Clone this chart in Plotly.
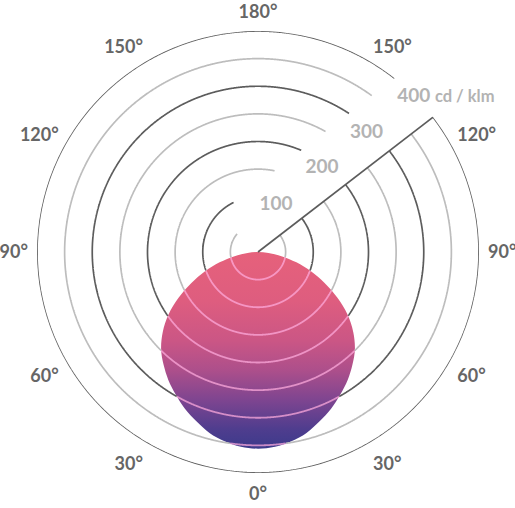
import numpy as np
import plotly.graph_objects as go

# ---- data ----
angles = [0, 5, 10, 15, 20, 25, 30, 35, 40, 45, 50, 55, 60, 65, 70, 75, 80, 85, 90]
intensity = [356, 354, 348, 339, 326, 313, 298, 283, 266, 248, 225, 198, 166, 133, 102, 72, 43, 19, 0]
ring_values = [50, 100, 150, 200, 250, 300, 350, 400]
ring_labels = ["100", "200", "300", "400"]
unit_label = "cd / klm"
angle_tickvals = [0, 30, 60, 90, 120, 150, 180, 210, 240, 270, 300, 330]
angle_ticktext = ["0°", "30°", "60°", "90°", "120°", "150°", "180°", "150°", "120°", "90°", "60°", "30°"]

# ---- style ----
RMAX = 400
RADIAL_ANGLE = 127.6
GAP_OFFSET = 98
LABEL_OFFSET = 52
LABEL_INSET = 9
DARK = "#5c5c5c"
LIGHT = "#bdbdbd"
INNER = "rgba(255,172,222,0.72)"
FONT = "Lato"

ang = np.array(angles, float)
inten = np.array(intensity, float)

fig = go.Figure()

# gradient filled distribution (cartesian overlay aligned with the polar area)
full_ang = np.concatenate([-ang[::-1], ang[1:]])
full_int = np.concatenate([inten[::-1], inten[1:]])
rad = np.deg2rad(full_ang)
fig.add_trace(go.Scatter(
    x=full_int * np.sin(rad), y=-full_int * np.cos(rad),
    mode="lines", line=dict(width=0, shape="spline", smoothing=1.0),
    fill="toself",
    fillgradient=dict(type="vertical", colorscale=[
        [0.0, "#3c3a8b"], [0.1, "#4f3d8e"], [0.25, "#7f4590"], [0.4, "#ad4f8b"],
        [0.55, "#cb5685"], [0.75, "#de5d7f"], [1.0, "#e6617b"]]),
    hoverinfo="skip", showlegend=False, xaxis="x", yaxis="y"))

# rings
theta = RADIAL_ANGLE + np.linspace(0, 360, 2881)
delta = np.deg2rad(theta - RADIAL_ANGLE)
t_wrap = np.abs(((theta + 180) % 360) - 180)
shape_r = np.interp(t_wrap, ang, inten, right=0)
for v in ring_values:
    inside = shape_r >= v
    gap = (v * np.sin(delta) >= 0) & (v * np.sin(delta) <= GAP_OFFSET) & (v * np.cos(delta) >= -10)
    out_r = np.where(~inside & ~gap, v, np.nan)
    in_r = np.where(inside, v, np.nan)
    col = DARK if v % 100 == 0 else LIGHT
    fig.add_trace(go.Scatterpolar(r=out_r, theta=theta, mode="lines",
                                  line=dict(color=col, width=1.7), connectgaps=False,
                                  cliponaxis=False, hoverinfo="skip", showlegend=False))
    if inside.any():
        fig.add_trace(go.Scatterpolar(r=in_r, theta=theta, mode="lines",
                                      line=dict(color=INNER, width=1.8), connectgaps=False,
                                      cliponaxis=False, hoverinfo="skip", showlegend=False))

# radial line
fig.add_trace(go.Scatterpolar(r=[0, max(ring_values)], theta=[RADIAL_ANGLE, RADIAL_ANGLE],
                              mode="lines", line=dict(color=DARK, width=1.7),
                              cliponaxis=False, hoverinfo="skip", showlegend=False))

# radial labels
lab_v = [int(s) for s in ring_labels]
lab_r = [v - LABEL_INSET for v in lab_v]
lab_t = [RADIAL_ANGLE + np.degrees(np.arcsin(LABEL_OFFSET / v)) for v in lab_v]
last = ring_labels[-1] + " <span style='font-size:16.5px'>" + unit_label + "</span>"
fig.add_trace(go.Scatterpolar(r=lab_r[:-1], theta=lab_t[:-1], mode="text", text=ring_labels[:-1],
                              textposition="middle center",
                              textfont=dict(family=FONT, size=19, color="#b3b3b3", weight="bold"),
                              cliponaxis=False, hoverinfo="skip", showlegend=False))
fig.add_trace(go.Scatterpolar(r=[lab_v[-1] - 23], theta=[lab_t[-1] + 3.0], mode="text", text=[last],
                              textposition="middle right",
                              textfont=dict(family=FONT, size=19, color="#b3b3b3", weight="bold"),
                              cliponaxis=False, hoverinfo="skip", showlegend=False))

fig.update_layout(
    width=515, height=508,
    margin=dict(l=37, r=36, t=31, b=35),
    paper_bgcolor="white", plot_bgcolor="white",
    showlegend=False,
    xaxis=dict(domain=[0, 1], range=[-RMAX, RMAX], visible=False, fixedrange=True),
    yaxis=dict(domain=[0, 1], range=[-RMAX, RMAX], visible=False, scaleanchor="x", fixedrange=True),
    polar=dict(
        domain=dict(x=[0, 1], y=[0, 1]),
        bgcolor="rgba(0,0,0,0)",
        radialaxis=dict(range=[0, RMAX], visible=False, showgrid=False),
        angularaxis=dict(rotation=-90, direction="counterclockwise",
                         tickmode="array", tickvals=angle_tickvals, ticktext=angle_ticktext,
                         showline=False, showgrid=False, ticks="outside", ticklen=5,
                         tickcolor="rgba(0,0,0,0)",
                         tickfont=dict(family=FONT, size=18, color="#666666", weight="bold")),
    ),
)

# remove the default 8px page margin so the 515x508 figure fills the window exactly
fig.write_html("out.html", config={"displayModeBar": False},
               post_script="document.body.style.margin='0';document.body.style.overflow='hidden';")
